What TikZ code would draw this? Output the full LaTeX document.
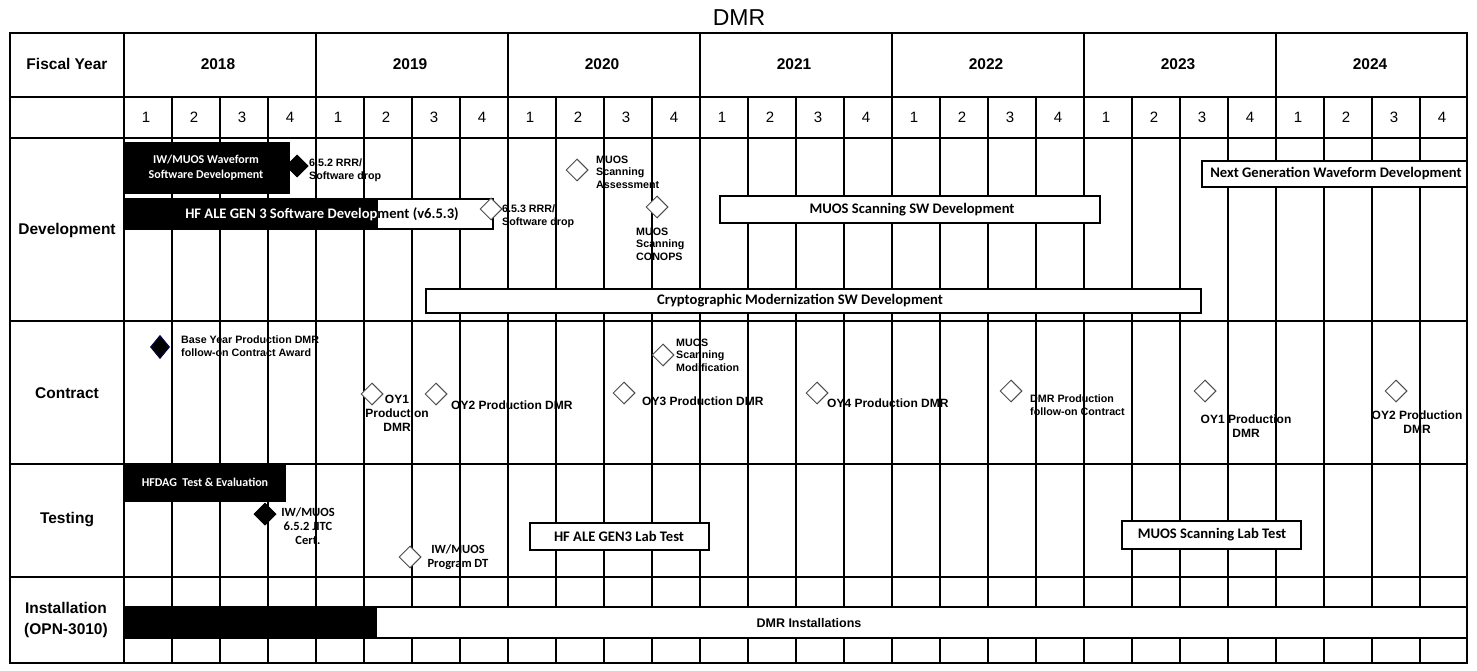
\documentclass[tikz,border=0pt]{standalone}
\usepackage{fontspec}
\setmainfont{Liberation Sans}
\newfontfamily\calib{Carlito}
\usetikzlibrary{shapes.geometric}
\newcommand{\myfs}[2]{\fontsize{#1}{#2}\selectfont}
\begin{document}
\begin{tikzpicture}[x=1pt,y=-1pt,
  gridl/.style={line width=1.2pt},
  bar/.style={draw, line width=1.2pt, fill=white, inner sep=0, anchor=center},
  blkbar/.style={fill=black, inner sep=0, anchor=center},
  bartxt/.style={font=\calib\bfseries\myfs{14.6}{17}, inner sep=0, align=center},
  smbartxt/.style={font=\calib\bfseries\myfs{12}{15}, inner sep=0, align=center, text=white},
  ms/.style={diamond, draw=black!70, fill=white, line width=1pt, inner sep=0, minimum width=22pt, minimum height=22pt},
  msb/.style={ms, draw=black, fill=black},
  lab/.style={font=\bfseries\myfs{10.7}{12.5}, align=left, anchor=west, inner sep=0},
  labm/.style={font=\bfseries\myfs{12}{14}, align=left, anchor=west, inner sep=0},
  labc/.style={font=\bfseries\myfs{12}{14}, align=center, inner sep=0},
  labk/.style={font=\calib\bfseries\myfs{12.5}{14}, align=center, inner sep=0},
  hdr/.style={font=\bfseries\myfs{15.5}{21}, align=center, inner sep=0},
  qn/.style={font=\myfs{15}{18}, inner sep=0}
]
\useasboundingbox (0,0) rectangle (1477,671);
\fill[white] (0,0) rectangle (1477,671);

% title
\node[font=\myfs{23}{27}, inner sep=0] (title) at (739,18) {DMR};

% grid
\draw[gridl] (10,33) rectangle (1467,663);
\foreach \y in {97,138,321,464,577} \draw[gridl] (10,\y) -- (1467,\y);
\draw[gridl] (124,33) -- (124,663);
\foreach \k in {1,...,6} \draw[gridl] ({124+192*\k},33) -- ({124+192*\k},663);
\foreach \k in {1,...,27} \draw[gridl] ({124+48*\k},97) -- ({124+48*\k},663);

% headers
\node[hdr] (fy) at (67,64) {Fiscal Year};
\foreach \yr [count=\k from 0] in {2018,2019,2020,2021,2022,2023,2024}
  \node[hdr] (y\yr) at ({218+192*\k},64) {\yr};
\foreach \i in {0,...,27}{
  \pgfmathtruncatemacro{\q}{mod(\i,4)+1}
  \node[qn] (q\i) at ({146+48*\i},117) {\q};
}
\node[hdr] (rdev) at (67,230) {Development};
\node[hdr] (rcon) at (67,393) {Contract};
\node[hdr] (rtst) at (67,520) {Testing};
\node[hdr] (rins) at (66,620) {Installation\\(OPN-3010)};

% Development
\node[bar, fill=black, minimum width=165pt, minimum height=50pt] (iw) at (206.5,168) {};
\node[smbartxt] (iwt) at (206,168) {IW/MUOS Waveform\\Software Development};
\node[msb] (m652) at (297,166) {};
\node[lab] (m652t) at (309,170) {6.5.2 RRR/\\Software drop};

\node[bar, minimum width=369pt, minimum height=30pt] (hf) at (308.5,214) {};
\node[blkbar, minimum width=254pt, minimum height=30pt] (hfb) at (251,214) {};
\begin{scope}
  \clip (124,199) rectangle (378,229);
  \node[bartxt, text=white] (hft1) at (322,214) {HF ALE GEN 3 Software Development (v6.5.3)};
\end{scope}
\begin{scope}
  \clip (378,199) rectangle (493,229);
  \node[bartxt] (hft2) at (322,214) {HF ALE GEN 3 Software Development (v6.5.3)};
\end{scope}
\node[ms] (m653) at (491,209) {};
\node[lab] (m653t) at (502,216) {6.5.3 RRR/\\Software drop};

\node[ms] (msa) at (577,170) {};
\node[lab] (msat) at (596,172) {MUOS\\Scanning\\Assessment};
\node[ms] (msc) at (657,207) {};
\node[lab] (msct) at (636,244) {MUOS\\Scanning\\CONOPS};

\node[bar, minimum width=380pt, minimum height=27pt] (muosdev) at (910,209.5) {};
\node[bartxt] (muosdevt) at (912,210) {MUOS Scanning SW Development};
\node[bar, minimum width=265pt, minimum height=26pt] (nextgen) at (1334.5,174) {};
\node[bartxt] (nextgent) at (1336,174) {Next Generation Waveform Development};
\node[bar, minimum width=775pt, minimum height=24pt] (crypto) at (813.5,301) {};
\node[bartxt] (cryptot) at (800,301) {Cryptographic Modernization SW Development};

% Contract
\node[msb, draw=blue!30!black, minimum width=19pt, minimum height=23pt] (mby) at (160,347) {};
\node[lab] (mbyt) at (181,346) {Base Year Production DMR\\follow-on Contract Award};
\node[ms] (oy1a) at (372,394) {};
\node[labc] (oy1at) at (397,413) {OY1\\Production\\DMR};
\node[ms] (oy2a) at (436,394) {};
\node[labm] (oy2at) at (451,405) {OY2 Production DMR};
\node[ms] (oy3) at (624,393) {};
\node[labm] (oy3t) at (642,401) {OY3 Production DMR};
\node[ms] (msm) at (663,355) {};
\node[lab] (msmt) at (676,355) {MUOS\\Scanning\\Modification};
\node[ms] (oy4) at (817,393) {};
\node[labm] (oy4t) at (827,403) {OY4 Production DMR};
\node[ms] (dmrf) at (1011,391) {};
\node[lab] (dmrft) at (1030,405) {DMR Production\\follow-on Contract};
\node[ms] (oy1b) at (1205,391) {};
\node[labc] (oy1bt) at (1246,426.5) {OY1 Production\\DMR};
\node[ms] (oy2b) at (1396,391) {};
\node[labc] (oy2bt) at (1417,422.5) {OY2 Production\\DMR};

% Testing
\node[bar, fill=black, minimum width=161pt, minimum height=35pt] (hfdag) at (204.5,483.5) {};
\node[smbartxt] (hfdagt) at (205,482) {HFDAG\ \ Test \& Evaluation};
\node[msb] (jitc) at (265,514) {};
\node[labk] (jitct) at (308,526) {IW/MUOS\\6.5.2 JITC\\Cert.};
\node[ms] (pdt) at (410,557) {};
\node[labk] (pdtt) at (458,557) {IW/MUOS\\Program DT};
\node[bar, minimum width=179pt, minimum height=27pt] (hflab) at (619.5,536.5) {};
\node[bartxt] (hflabt) at (619,536) {HF ALE GEN3 Lab Test};
\node[bar, minimum width=179pt, minimum height=28pt] (muoslab) at (1211.5,535) {};
\node[bartxt] (muoslabt) at (1212,535) {MUOS Scanning Lab Test};

% Installation
\node[bar, minimum width=1343pt, minimum height=31pt] (inst) at (795.5,622.5) {};
\node[blkbar, minimum width=253pt, minimum height=31pt] (instb) at (250.5,622.5) {};
\node[font=\bfseries\myfs{12.5}{15}, inner sep=0] (instt) at (809,623) {DMR Installations};
\end{tikzpicture}
\end{document}
